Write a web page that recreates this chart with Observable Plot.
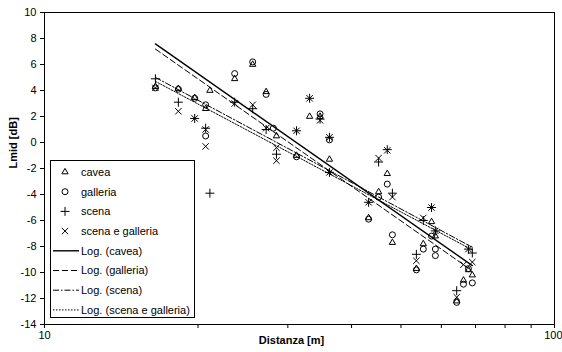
<!DOCTYPE html>
<html><head><meta charset="utf-8">
<script src="https://cdn.jsdelivr.net/npm/d3@7"></script>
<script src="https://cdn.jsdelivr.net/npm/@observablehq/plot@0.6"></script>
<style>
body{margin:0;background:#fff;font-family:"Liberation Sans",Arial,sans-serif;}
#wrap{position:relative;width:562px;height:352px;}
#legend{position:absolute;left:50px;top:160px;}
</style></head><body><div id="wrap"></div>
<script>
// ---- data ----
const seriesNames = ["cavea", "galleria", "scena", "scena e galleria"];
const trendNames = ["Log. (cavea)", "Log. (galleria)", "Log. (scena)", "Log. (scena e galleria)"];

const caveaD = [16.5,18.3,19.7,21.1,20.7,23.6,25.6,27.2,28.5,31.2,33.1,34.7,36.2,43.2,45.2,47.0,48.1,53.6,55.3,57.4,58.4,64.3,66.3,67.8,69.0];
const caveaL = [4.3,4.15,3.45,4.0,2.6,4.9,6.0,3.9,0.5,-1.0,2.0,2.0,-1.3,-5.8,-3.8,-2.4,-7.7,-9.7,-7.8,-6.1,-7.2,-12.2,-10.6,-9.8,-10.2];

const galleriaD = [16.5,18.3,19.7,20.7,20.7,23.6,25.6,27.2,28.1,31.2,34.7,36.2,43.2,45.2,47.0,48.1,53.6,55.3,57.4,58.4,58.4,64.3,66.3,67.8,69.0];
const galleriaL = [4.2,4.1,3.4,2.9,0.5,5.3,6.2,3.7,1.1,-1.1,2.2,0.2,-5.9,-4.2,-3.2,-7.1,-9.8,-8.2,-7.2,-8.2,-8.7,-12.3,-10.9,-9.7,-10.8];

const scenaD = [16.5,18.3,19.7,20.7,21.1,23.6,25.6,27.2,28.5,31.2,33.1,34.7,36.2,36.2,43.2,45.2,47.0,48.1,53.6,55.3,57.4,58.4,64.3,67.8,69.0];
const scenaL = [4.9,3.1,1.85,1.1,-3.9,3.1,2.6,1.0,-0.9,0.9,3.4,1.8,0.4,-2.3,-4.6,-1.5,-0.55,-3.9,-8.6,-6.0,-5.0,-6.8,-11.4,-8.2,-8.5];

const sgD = [16.5,18.3,19.7,20.7,20.7,23.6,25.6,27.2,28.5,28.5,31.2,33.1,34.7,36.2,36.2,43.2,45.2,47.0,48.1,53.6,55.3,57.4,58.4,64.3,66.3,67.8,69.0];
const sgL = [4.2,2.4,1.85,1.0,-0.3,3.0,2.9,1.1,-0.4,-1.4,0.9,3.4,1.7,0.4,-2.3,-4.6,-1.2,-0.6,-4.2,-9.1,-5.8,-5.0,-6.8,-11.9,-9.4,-8.2,-9.2];

// logarithmic trend lines  L = a * ln(d) + b  (coefficients)
const trendA = [-11.92, -11.92, -9.13, -9.06];
const trendB = [41.0, 40.6, 30.6, 30.1];

const xTicks = [10,20,30,40,50,60,70,80,90,100];
const xLabelTicks = [10, 100];
const yTicks = [-14,-12,-10,-8,-6,-4,-2,0,2,4,6,8,10];
const xTitle = "Distanza [m]";
const yTitle = "Lmid [dB]";

// ---- build ----
const dists = [caveaD, galleriaD, scenaD, sgD];
const vals = [caveaL, galleriaL, scenaL, sgL];
const symbols = ["triangle2", "circle", "plus", "times"];
const d3symbols = [d3.symbolTriangle2, d3.symbolCircle, d3.symbolPlus, d3.symbolTimes];
const dashes = [null, "6,3", "6,2,1.5,2", "1.5,1.5"];
const widths = [1.4, 1, 1, 1];

const series = seriesNames.map((s, i) => dists[i].map((d, j) => ({s, d, L: vals[i][j]})));
const trends = seriesNames.map((s, i) => {
  const [d0, d1] = d3.extent(dists[i]);
  return [d0, d1].map(d => ({d, L: trendA[i] * Math.log(d) + trendB[i]}));
});

const chart = Plot.plot({
  width: 562, height: 352,
  marginLeft: 44, marginRight: 8, marginTop: 12, marginBottom: 28,
  x: {type: "log", domain: [10, 100]},
  y: {domain: [-14, 10]},
  style: {fontFamily: "Liberation Sans, Arial, sans-serif", fontSize: "11px", background: "#fff", color: "#000"},
  marks: [
    Plot.axisX({ticks: xTicks, tickFormat: () => "", tickSize: 4, label: null}),
    Plot.axisX({ticks: [xLabelTicks[0]], tickFormat: d => String(d), tickSize: 0, tickPadding: 7, label: null, fontSize: 11}),
    Plot.axisX({ticks: [xLabelTicks[1]], tickFormat: d => String(d), tickSize: 0, tickPadding: 7, label: null, fontSize: 11, textAnchor: "end", dx: 8}),
    Plot.axisY({ticks: yTicks, tickFormat: d => String(d), tickSize: 4, tickPadding: 4, label: null, fontSize: 11}),
    ...trends.map((t, i) => Plot.line(t, {x: "d", y: "L", stroke: "#000", strokeWidth: widths[i], strokeDasharray: dashes[i]})),
    ...series.map((pts, i) => Plot.dot(pts, {x: "d", y: "L", symbol: symbols[i], r: 3, stroke: "#000", fill: "none", strokeWidth: 1})),
    Plot.frame({stroke: "#000"}),
    Plot.text([xTitle], {text: d => d, frameAnchor: "bottom", dy: 19, dx: -8, fontWeight: "bold", fontSize: 11}),
    Plot.text([yTitle], {text: d => d, frameAnchor: "left", rotate: -90, dx: -31, fontWeight: "bold", fontSize: 11})
  ]
});
const wrap = document.getElementById("wrap");
wrap.appendChild(chart);

// legend
const lw = 145, lh = 158;
const lg = d3.select(wrap).append("svg").attr("id", "legend").attr("width", lw).attr("height", lh)
  .style("font-family", "Liberation Sans, Arial, sans-serif").style("font-size", "11px");
lg.append("rect").attr("x", 0.5).attr("y", 0.5).attr("width", lw - 1).attr("height", lh - 1)
  .attr("fill", "#fff").attr("stroke", "#000");
const rowY = i => 12 + i * 19.7;
seriesNames.forEach((s, i) => {
  lg.append("path").attr("d", d3.symbol(d3symbols[i], Math.PI * 9)())
    .attr("transform", `translate(15,${rowY(i)})`).attr("fill", "none").attr("stroke", "#000");
  lg.append("text").attr("x", 31).attr("y", rowY(i)).attr("dy", "0.35em").text(s);
});
trendNames.forEach((s, i) => {
  const y = rowY(i + 4);
  lg.append("line").attr("x1", 3).attr("x2", 29).attr("y1", y).attr("y2", y)
    .attr("stroke", "#000").attr("stroke-width", widths[i]).attr("stroke-dasharray", dashes[i]);
  lg.append("text").attr("x", 31).attr("y", y).attr("dy", "0.35em").text(s);
});
</script></body></html>
